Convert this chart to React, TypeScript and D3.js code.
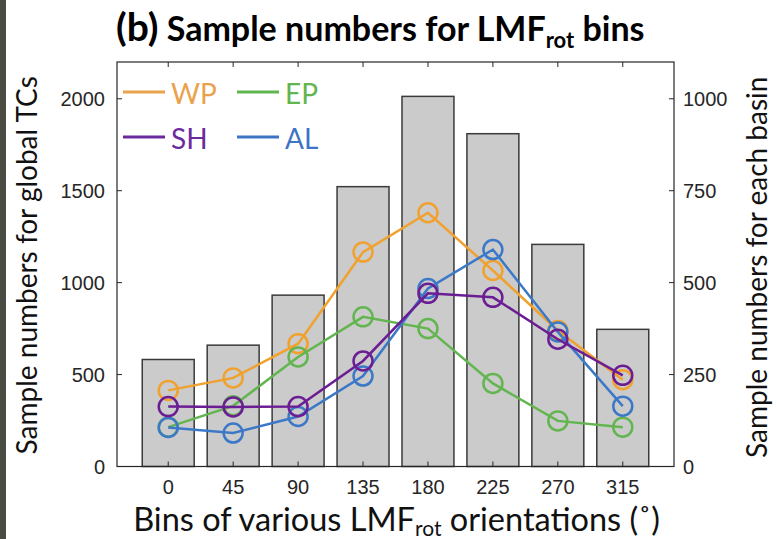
import React from "react";
import * as d3 from "d3";

// Orientation bins (degrees)
const bins = [0, 45, 90, 135, 180, 225, 270, 315];
// Global TC sample counts per bin (left axis)
const globalCounts = [582, 660, 932, 1522, 2013, 1810, 1208, 746];
// Per-basin sample counts per bin (right axis)
const wpCounts = [207, 241, 334, 583, 690, 533, 370, 236];
const epCounts = [107, 165, 298, 407, 375, 226, 124, 107];
const shCounts = [163, 162, 163, 287, 471, 460, 346, 248];
const alCounts = [106, 91, 136, 246, 484, 590, 366, 164];
const leftTicks = [0, 500, 1000, 1500, 2000];
const rightTicks = [0, 250, 500, 750, 1000];

const W = 777;
const H = 539;
const plot = { left: 117, right: 674, top: 62, bottom: 466.5 };

const series = [
  { name: "WP", values: wpCounts, color: "#f0a12e" },
  { name: "EP", values: epCounts, color: "#62b54f" },
  { name: "AL", values: alCounts, color: "#3c78c8" },
  { name: "SH", values: shCounts, color: "#6b1d93" },
];

const legendItems = [
  { name: "WP", color: "#eba24c", col: 0, row: 0 },
  { name: "EP", color: "#62b54f", col: 1, row: 0 },
  { name: "SH", color: "#6b2a9d", col: 0, row: 1 },
  { name: "AL", color: "#3d74c4", col: 1, row: 1 },
];

const sansUI = "Lato, 'Open Sans', sans-serif";
const sansTick = "'Liberation Sans', Arial, sans-serif";

export default function App() {
  const x = d3.scaleLinear().domain([-35.5, 350.5]).range([plot.left, plot.right]);
  const yL = d3.scaleLinear().domain([0, 2200]).range([plot.bottom, plot.top]);
  const yR = d3.scaleLinear().domain([0, 1100]).range([plot.bottom, plot.top]);
  const barHalf = 18; // bar width 0.8 of the 45-degree spacing
  const line = d3
    .line<number>()
    .x((_, i) => x(bins[i]))
    .y((d) => yR(d));
  const axisColor = "#262626";
  const tickLen = 5;

  return (
    <div style={{ position: "fixed", left: 0, top: 0, width: W, height: H, background: "#fff" }}>
      <svg width={W} height={H} viewBox={`0 0 ${W} ${H}`}>
        <rect x={0} y={0} width={W} height={H} fill="#fff" />
        <rect x={0} y={0} width={6} height={H} fill="#4a4c44" />

        {/* Title */}
        <text x={116} y={41} fontFamily={sansUI} fontWeight={700} fill="#000">
          <tspan fontSize={39}>(b)</tspan>
          <tspan fontSize={34}> Sample numbers for LMF</tspan>
          <tspan fontSize={22} dy={7}>rot</tspan>
          <tspan fontSize={34} dy={-7}> bins</tspan>
        </text>

        {/* Bars: global counts */}
        {bins.map((b, i) => (
          <rect
            key={b}
            x={x(b - barHalf)}
            y={yL(globalCounts[i])}
            width={x(b + barHalf) - x(b - barHalf)}
            height={yL(0) - yL(globalCounts[i])}
            fill="#cbcbcb"
            stroke="#3a3a3a"
            strokeWidth={1.5}
          />
        ))}

        {/* Basin lines */}
        {series.map((s) => (
          <g key={s.name}>
            <path d={line(s.values) || ""} fill="none" stroke={s.color} strokeWidth={2.5} />
            {s.values.map((v, i) => (
              <circle
                key={i}
                cx={x(bins[i])}
                cy={yR(v)}
                r={9.5}
                fill="none"
                stroke={s.color}
                strokeWidth={2.5}
              />
            ))}
          </g>
        ))}

        {/* Axes box */}
        <rect
          x={plot.left}
          y={plot.top}
          width={plot.right - plot.left}
          height={plot.bottom - plot.top}
          fill="none"
          stroke={axisColor}
          strokeWidth={1.2}
        />

        {/* Left ticks */}
        {leftTicks.map((t) => (
          <g key={"l" + t}>
            <line x1={plot.left} x2={plot.left + tickLen} y1={yL(t)} y2={yL(t)} stroke={axisColor} strokeWidth={1} />
            <text
              x={plot.left - 12}
              y={yL(t)}
              textAnchor="end"
              dominantBaseline="central"
              fontFamily={sansTick}
              fontSize={20}
              fill="#262626"
            >
              {t}
            </text>
          </g>
        ))}

        {/* Right ticks */}
        {rightTicks.map((t) => (
          <g key={"r" + t}>
            <line x1={plot.right - tickLen} x2={plot.right} y1={yR(t)} y2={yR(t)} stroke={axisColor} strokeWidth={1} />
            <text
              x={plot.right + 9}
              y={yR(t)}
              textAnchor="start"
              dominantBaseline="central"
              fontFamily={sansTick}
              fontSize={20}
              fill="#262626"
            >
              {t}
            </text>
          </g>
        ))}

        {/* X ticks (bottom and top) */}
        {bins.map((b) => (
          <g key={"x" + b}>
            <line x1={x(b)} x2={x(b)} y1={plot.bottom} y2={plot.bottom - tickLen} stroke={axisColor} strokeWidth={1} />
            <line x1={x(b)} x2={x(b)} y1={plot.top} y2={plot.top + tickLen} stroke={axisColor} strokeWidth={1} />
            <text
              x={x(b)}
              y={plot.bottom + 20}
              textAnchor="middle"
              dominantBaseline="central"
              fontFamily={sansTick}
              fontSize={20}
              fill="#262626"
            >
              {b}
            </text>
          </g>
        ))}

        {/* Axis titles */}
        <text
          transform={`translate(26, ${(plot.top + plot.bottom) / 2 + 1}) rotate(-90)`}
          textAnchor="middle"
          dominantBaseline="central"
          fontFamily={sansUI}
          fontSize={28}
          fill="#111"
        >
          Sample numbers for global TCs
        </text>
        <text
          transform={`translate(756, ${(plot.top + plot.bottom) / 2 + 3}) rotate(-90)`}
          textAnchor="middle"
          dominantBaseline="central"
          fontFamily={sansUI}
          fontSize={28}
          fill="#111"
        >
          Sample numbers for each basin
        </text>
        <text x={(plot.left + plot.right) / 2 + 1} y={531} textAnchor="middle" fontFamily={sansUI} fontSize={32.5} fill="#111">
          <tspan>Bins of various LMF</tspan>
          <tspan fontSize={21} dy={5}>rot</tspan>
          <tspan dy={-5}> orientations (˚)</tspan>
        </text>

        {/* Legend */}
        {legendItems.map((it) => {
          const lx = 123 + it.col * 114;
          const ly = 92 + it.row * 45;
          return (
            <g key={it.name}>
              <line x1={lx} x2={lx + 42} y1={ly} y2={ly} stroke={it.color} strokeWidth={2.8} />
              <text
                x={lx + 48}
                y={ly + 1}
                dominantBaseline="central"
                fontFamily={sansUI}
                fontSize={28}
                fill={it.color}
              >
                {it.name}
              </text>
            </g>
          );
        })}
      </svg>
    </div>
  );
}
